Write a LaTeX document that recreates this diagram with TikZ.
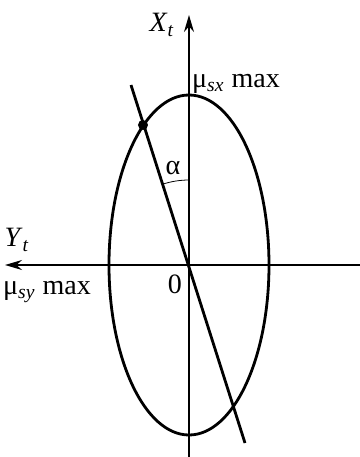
\documentclass[tikz,border=0pt]{standalone}
\usepackage{fontspec}
\setmainfont{Liberation Serif}
\usepackage{tikz}
\usetikzlibrary{calc,arrows.meta}
\tikzstyle{axis} = [line width=0.75pt,-{Stealth[length=8.5pt,width=5pt]}]
\tikzstyle{curve} = [line width=1.4pt]
\tikzstyle{lbl} = [inner sep=0pt, font=\fontsize{14}{16}\selectfont]
\tikzstyle{pt} = [circle, fill=black, inner sep=0pt, minimum size=5pt]

\begin{document}
\begin{tikzpicture}[x=0.5pt,y=0.5pt]
\useasboundingbox (-189,-192) rectangle (171,265);
\coordinate (O) at (0,0);
\coordinate (xtop) at (0,250);
\coordinate (xbot) at (0,-192);
\coordinate (yleft) at (-184,0);
\coordinate (yright) at (171,0);
\coordinate (ltop) at (-58,180);
\coordinate (lbot) at (56,-178);
\draw [axis] (xbot) -- (xtop);
\draw [axis] (yright) -- (yleft);
\draw [curve] (O) ellipse [x radius=80, y radius=170];
\draw [curve] (ltop) -- (lbot);
\node (dot) [pt] at (-46,140) {};
\draw [line width=0.4pt] ($(O)+(90:85)$) arc [start angle=90, end angle=107.8, radius=85];
\node (xt) [lbl] at (-27,240) {\textit{X}\textsubscript{\textit{t}}};
\node (musx) [lbl] at (47,181) {μ\textsubscript{\textit{sx}} max};
\node (yt) [lbl] at (-172,25) {\textit{Y}\textsubscript{\textit{t}}};
\node (musy) [lbl] at (-142,-27) {μ\textsubscript{\textit{sy}} max};
\node (zero) [lbl] at (-14,-19) {0};
\node (alpha) [lbl] at (-16,97) {α};

\end{tikzpicture}
\end{document}
